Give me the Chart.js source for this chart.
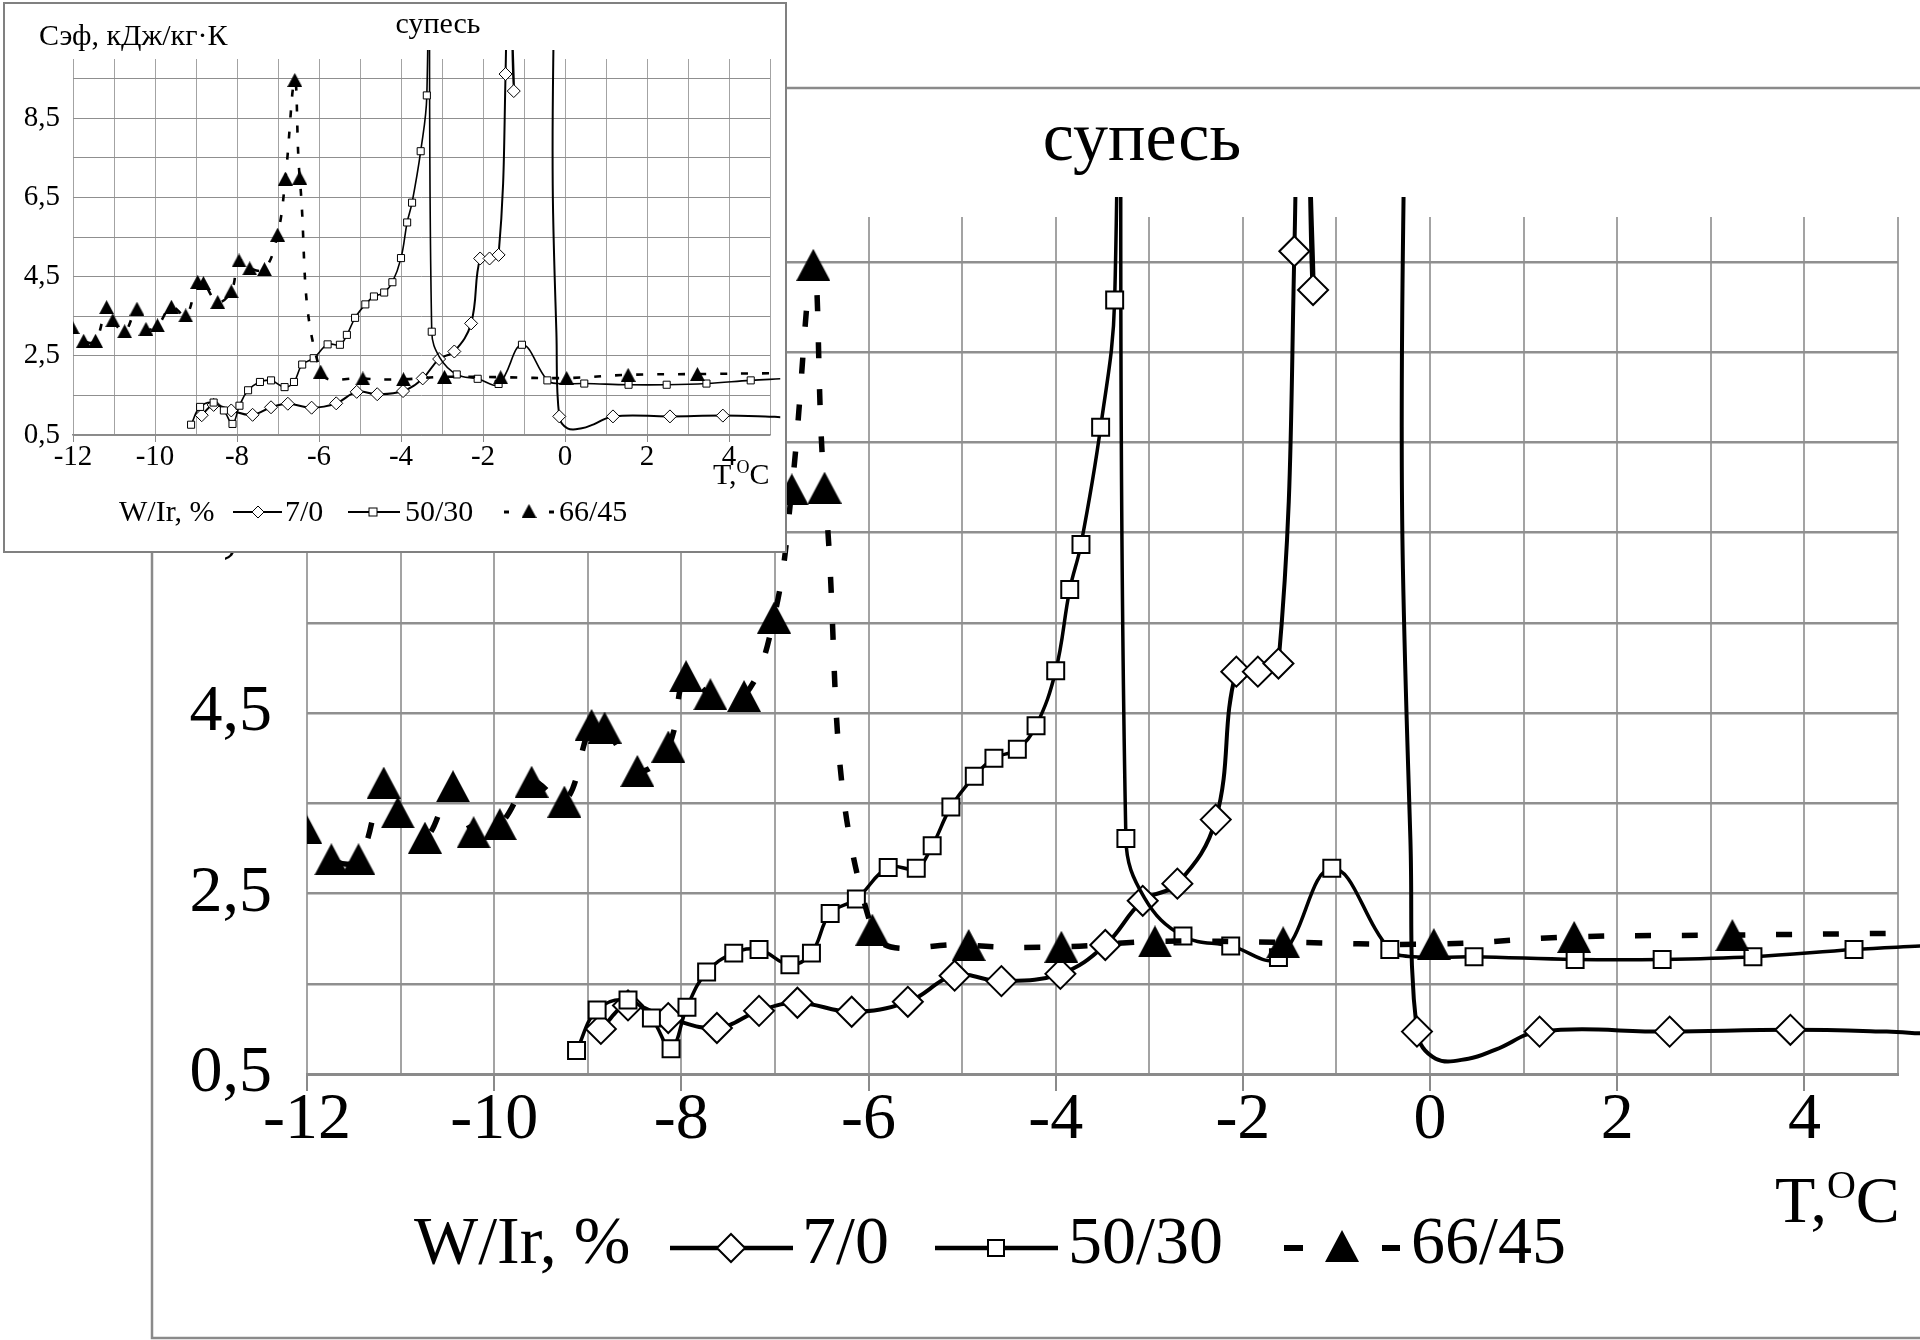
<!DOCTYPE html>
<html><head><meta charset="utf-8">
<script src="https://cdn.jsdelivr.net/npm/chart.js@4.4.0/dist/chart.umd.min.js"></script>
<style>
html,body{margin:0;padding:0;background:#fff;overflow:hidden;width:1920px;height:1340px}
canvas{position:absolute;left:0;top:0}
</style></head><body>
<canvas id="big" width="1920" height="1340"></canvas>
<canvas id="inset" width="790" height="560"></canvas>
<script>
// ---------- data ----------
const titleText = 'супесь';
const yTitle = 'Сэф, кДж/кг·К';
const xTitleMain = 'T,';
const xTitleSup = 'O';
const xTitleEnd = 'C';
const legendTitle = 'W/Ir, %';
const seriesNames = ['7/0', '50/30', '66/45'];
const xTicks = [-12,-11,-10,-9,-8,-7,-6,-5,-4,-3,-2,-1,0,1,2,3,4,5];
const xLabels = [-12,-10,-8,-6,-4,-2,0,2,4];
const yTicks = [0.5,1.5,2.5,3.5,4.5,5.5,6.5,7.5,8.5,9.5];
const yLabels = [0.5,2.5,4.5,6.5,8.5];

// 7/0 : marked points
const t70 = [-8.86,-8.57,-8.14,-7.62,-7.17,-6.76,-6.18,-5.58,-5.08,-4.58,-3.95,-3.47,-3.07,-2.70,-2.29,-2.07,-1.84,-1.62,-1.45,-1.25,-0.14,1.17,2.56,3.85];
const c70 = [1.00,1.26,1.12,1.01,1.20,1.29,1.19,1.30,1.59,1.53,1.61,1.93,2.42,2.61,3.32,4.96,4.96,5.05,9.62,9.19,0.97,0.97,0.97,0.99];
// 7/0 : line points without marker (off-scale peak, curve turns, tail)
const t70c = [-1.38,-1.18,-0.45,-0.29,-0.21,0.06,0.41,0.70,4.88,5.25];
const c70c = [16,16,16,6.1,3.1,0.67,0.67,0.77,0.97,0.95];

// 50/30 : marked points
const t5030 = [-9.12,-8.90,-8.57,-8.32,-8.11,-7.94,-7.73,-7.44,-7.17,-6.84,-6.61,-6.41,-6.13,-5.79,-5.49,-5.32,-5.12,-4.87,-4.66,-4.41,-4.21,-4.00,-3.85,-3.73,-3.52,-3.37,-3.25,-2.64,-2.13,-1.62,-1.05,-0.43,0.47,1.55,2.48,3.45,4.53];
const c5030 = [0.76,1.21,1.32,1.12,0.78,1.24,1.63,1.84,1.88,1.71,1.84,2.28,2.44,2.79,2.78,3.03,3.46,3.80,4.00,4.10,4.36,4.97,5.87,6.37,7.67,9.08,3.11,2.03,1.92,1.79,2.78,1.88,1.80,1.77,1.77,1.80,1.88];
// 50/30 : line points without marker
const t5030c = [-3.31,-3.05,-0.18,5.25];
const c5030c = [16,2.45,1.80,1.92];

// 66/45 : marked points
const t6645 = [-12.02,-11.74,-11.45,-11.18,-11.03,-10.74,-10.44,-10.22,-9.94,-9.60,-9.25,-8.96,-8.82,-8.47,-8.14,-7.95,-7.69,-7.33,-7.01,-6.82,-6.59,-6.47,-5.96,-4.93,-3.94,-2.94,-1.57,0.04,1.54,3.23];
const c6645 = [3.23,2.88,2.88,3.73,3.40,3.12,3.69,3.18,3.27,3.74,3.52,4.37,4.34,3.86,4.13,4.91,4.71,4.69,5.56,6.98,9.47,7.00,2.10,1.93,1.91,1.97,1.96,1.94,2.02,2.04];
// 66/45 : line points without marker
const t6645c = [5.0];
const c6645c = [2.06];

// ---------- helpers ----------
const FONT = "'Liberation Serif','Times New Roman',serif";
function pts(t, c){ return t.map((x,i)=>({x:x, y:c[i]})); }
function linePts(t, c, tc, cc){ return pts(t,c).concat(pts(tc,cc)).sort((a,b)=>a.x-b.x); }
function triangle(w,h){
  const cv=document.createElement('canvas'); cv.width=w; cv.height=h;
  const g=cv.getContext('2d'); g.fillStyle='#000'; g.beginPath();
  g.moveTo(w/2,0); g.lineTo(w,h); g.lineTo(0,h); g.closePath(); g.fill(); return cv;
}
const near=(arr,v)=>arr.some(a=>Math.abs(a-v)<1e-6);

function drawDiamond(c,x,y,r,lw){ c.beginPath(); c.moveTo(x,y-r); c.lineTo(x+r,y); c.lineTo(x,y+r); c.lineTo(x-r,y); c.closePath(); c.fillStyle='#fff'; c.fill(); c.lineWidth=lw; c.strokeStyle='#000'; c.stroke(); }
function drawSquare(c,x,y,h,lw){ c.fillStyle='#fff'; c.fillRect(x-h,y-h,2*h,2*h); c.lineWidth=lw; c.strokeStyle='#000'; c.strokeRect(x-h,y-h,2*h,2*h); }
function seg(c,x1,x2,y,lw){ c.strokeStyle='#000'; c.lineWidth=lw; c.lineCap='butt'; c.beginPath(); c.moveTo(x1,y); c.lineTo(x2,y); c.stroke(); }

function drawTexts(chart, S){
  const c=chart.ctx; c.save();
  c.fillStyle='#000'; c.textBaseline='alphabetic';
  // title
  c.font = S.titleFont+'px '+FONT; c.textAlign='center';
  c.fillText(titleText, S.titleX, S.titleY);
  c.textAlign='left';
  if (S.yTitle){ c.font=S.yTitle.f+'px '+FONT; c.fillText(yTitle, S.yTitle.x, S.yTitle.y); }
  // x axis title T,°C
  c.font=S.xt.f+'px '+FONT; c.fillText(xTitleMain, S.xt.x, S.xt.y);
  let xx = S.xt.x + c.measureText(xTitleMain).width;
  c.font=S.xt.fs+'px '+FONT; c.fillText(xTitleSup, xx, S.xt.y - S.xt.rise);
  xx += c.measureText(xTitleSup).width;
  c.font=S.xt.f+'px '+FONT; c.fillText(xTitleEnd, xx, S.xt.y);
  // legend
  const L=S.leg;
  c.font=L.f+'px '+FONT; c.fillStyle='#000'; c.fillText(legendTitle, L.tx0, L.base);
  // 7/0
  seg(c,L.a[0],L.a[1],L.ly,L.lw);
  drawDiamond(c,L.a[2],L.ly,L.rd,L.mlw);
  c.fillStyle='#000'; c.fillText(seriesNames[0], L.a[3], L.base);
  // 50/30
  seg(c,L.b[0],L.b[1],L.ly,L.lw);
  drawSquare(c,L.b[2],L.ly,L.rs,L.mlw);
  c.fillStyle='#000'; c.fillText(seriesNames[1], L.b[3], L.base);
  // 66/45
  seg(c,L.d[0],L.d[1],L.ly,L.dlw);
  seg(c,L.d[2],L.d[3],L.ly,L.dlw);
  c.drawImage(L.tri, L.d[4]-L.tri.width/2, L.ly-L.tri.height/2-L.triUp);
  c.fillStyle='#000'; c.fillText(seriesNames[2], L.d[5], L.base);
  c.restore();
}

function makeChart(id, S){
  const clip=S.clip;
  const ds=[
    {data:pts(t6645,c6645), showLine:false, pointStyle:S.tri, pointRadius:10, clip:clip},
    {data:linePts(t6645,c6645,t6645c,c6645c), showLine:true, borderColor:'#000', borderWidth:S.lw66, borderDash:S.dash, borderCapStyle:'butt', pointRadius:0, tension:0.4, clip:clip},
    {data:pts(t5030,c5030), showLine:false, pointStyle:'rect', pointRadius:S.rSq, pointBackgroundColor:'#fff', pointBorderColor:'#000', pointBorderWidth:S.mbw, clip:clip},
    {data:linePts(t5030,c5030,t5030c,c5030c), showLine:true, borderColor:'#000', borderWidth:S.lw50, pointRadius:0, tension:0.4, clip:clip},
    {data:pts(t70,c70), showLine:false, pointStyle:'rectRot', pointRadius:S.rDia, pointBackgroundColor:'#fff', pointBorderColor:'#000', pointBorderWidth:S.mbw, clip:clip},
    {data:linePts(t70,c70,t70c,c70c), showLine:true, borderColor:'#000', borderWidth:S.lw70, pointRadius:0, tension:0.4, clip:clip}
  ];
  return new Chart(document.getElementById(id), {
    type:'scatter',
    data:{datasets:ds},
    options:{
      responsive:false, animation:false, events:[], devicePixelRatio:1,
      layout:{padding:{left:0, top:S.top, right:S.right, bottom:0}},
      plugins:{legend:{display:false}, tooltip:{enabled:false}, title:{display:false}},
      scales:{
        x:{type:'linear', min:-12, max:5,
          afterBuildTicks:sc=>{sc.ticks=xTicks.map(v=>({value:v}));},
          afterFit:sc=>{sc.height=S.xH;},
          ticks:{autoSkip:false, maxRotation:0, minRotation:0, padding:S.xPad, color:'#000',
            font:{family:FONT, size:S.fTick, lineHeight:1},
            callback:v=> near(xLabels,v) ? String(v) : ''},
          grid:{color:'#a3a3a3', lineWidth:S.gw, tickLength:S.tickLen, tickWidth:S.gw,
            tickColor:ctx=> (ctx.tick && near(xLabels,ctx.tick.value)) ? '#8a8a8a' : 'rgba(0,0,0,0)'},
          border:{display:true, color:'#8a8a8a', width:S.bw}
        },
        y:{type:'linear', min:0.5, max:10,
          afterBuildTicks:sc=>{sc.ticks=yTicks.map(v=>({value:v}));},
          afterFit:sc=>{sc.width=S.yW;},
          ticks:{autoSkip:false, padding:S.yPad, color:'#000',
            font:{family:FONT, size:S.fTick, lineHeight:1},
            callback:v=> near(yLabels,v) ? v.toFixed(1).replace('.',',') : ''},
          grid:{color:'#8f8f8f', lineWidth:S.hgw, drawTicks:false},
          border:{display:false}
        }
      }
    },
    plugins:[S.plugin]
  });
}

// ---------- big chart ----------
const triBig = triangle(34,32);
const bigS = {
  top:217, right:22, xH:266, yW:307, fTick:66, xPad:-3, yPad:35, tickLen:17,
  gw:2, hgw:2.5, bw:3, lw70:4, lw50:3.5, lw66:5.5, dash:[16,31],
  rDia:15, rSq:12, mbw:2, tri:triBig, clip:{left:0, top:20, right:25, bottom:0},
  plugin:{id:'bigDeco',
    beforeDraw(chart){ const c=chart.ctx; c.save(); c.fillStyle='#fff'; c.fillRect(0,0,chart.width,chart.height);
      c.strokeStyle='#8a8a8a'; c.lineWidth=2.5; c.strokeRect(152,88,1900,1250); c.restore(); },
    afterDraw(chart){ drawTexts(chart,{
      titleFont:70, titleX:1142, titleY:160,
      xt:{f:66, fs:40, x:1775, y:1222, rise:24},
      leg:{f:68, base:1263, ly:1248, lw:4.5, dlw:6, mlw:2, rd:14, rs:8, tri:triBig, triUp:2,
        tx0:414, a:[670,793,731,802], b:[935,1058,996,1068], d:[1284,1303,1382,1400,1342,1411]}
    }); }
  }
};
makeChart('big', bigS);

// ---------- inset chart ----------
const triSmall = triangle(15,14);
const insetS = {
  top:59, right:20, xH:125, yW:73, fTick:29, xPad:1, yPad:13, tickLen:7,
  gw:1, hgw:1, bw:1.5, lw70:2, lw50:1.6, lw66:2.6, dash:[7,14],
  rDia:6.5, rSq:5, mbw:1, tri:triSmall, clip:{left:0, top:9, right:11, bottom:0},
  plugin:{id:'insetDeco',
    beforeDraw(chart){ const c=chart.ctx; c.save(); c.clearRect(0,0,chart.width,chart.height);
      c.fillStyle='#fff'; c.fillRect(4,3,782,549);
      c.strokeStyle='#808080'; c.lineWidth=2; c.strokeRect(4,3,782,549); c.restore(); },
    afterDraw(chart){ drawTexts(chart,{
      titleFont:30, titleX:438, titleY:33,
      yTitle:{f:30, x:39, y:45},
      xt:{f:30, fs:18, x:713, y:484, rise:11},
      leg:{f:30, base:521, ly:512, lw:2, dlw:3, mlw:1, rd:6, rs:4, tri:triSmall, triUp:1,
        tx0:119, a:[233,282,258,285], b:[348,400,373,405], d:[504,509,549,554,529,559]}
    }); }
  }
};
makeChart('inset', insetS);
</script>
</body></html>
